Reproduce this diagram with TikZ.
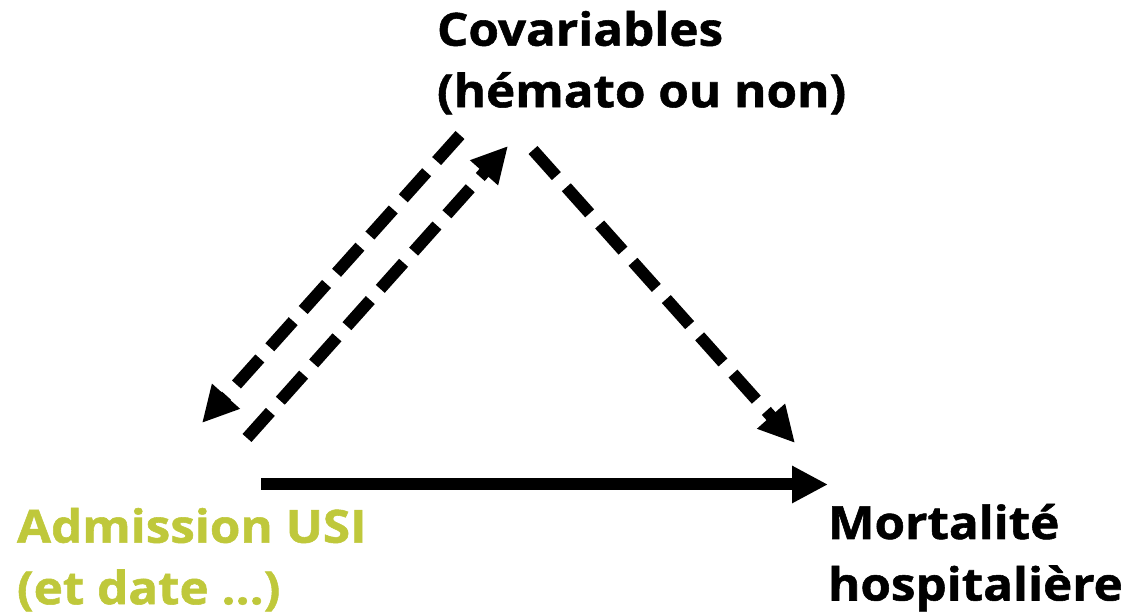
\documentclass[tikz,border=0pt]{standalone}
\usepackage{fontspec}
\setmainfont{Open Sans}[FakeStretch=1.08,BoldFeatures={FakeBold=1.2}]
\usetikzlibrary{positioning,arrows.meta}
\definecolor{usigreen}{HTML}{BFC83B}

\begin{document}
\begin{tikzpicture}[>={Triangle[length=0.72cm,width=0.70cm]},line width=0.24cm,
  lbl/.style={anchor=north west,inner sep=0pt,align=left,font=\fontsize{26}{35}\selectfont\bfseries},
  dsh/.style={dash pattern=on 0.70cm off 0.30cm}]
\useasboundingbox (0,0) rectangle (22.52,12.28);
\node[lbl] (cov) at (8.62,12.18) {Covariables\\(hémato ou non)};
\node[lbl,text=usigreen] (adm) at (0.22,2.24) {Admission USI\\(et date …)};
\node[lbl] (mort) at (16.44,2.32) {Mortalité\\hospitalière};
% arrow ends
\coordinate (c1) at (9.20,9.58);  \coordinate (a1) at (4.04,3.82);
\coordinate (a2) at (4.94,3.52);  \coordinate (c2) at (10.16,9.36);
\coordinate (c3) at (10.66,9.28); \coordinate (m1) at (15.90,3.42);
\coordinate (a3) at (5.22,2.59);  \coordinate (m2) at (16.56,2.59);
\foreach \a/\b in {c1/a1,a2/c2,c3/m1} \draw[dsh,->] (\a) -- (\b);
\draw[->] (a3) -- (m2);
\end{tikzpicture}
\end{document}
